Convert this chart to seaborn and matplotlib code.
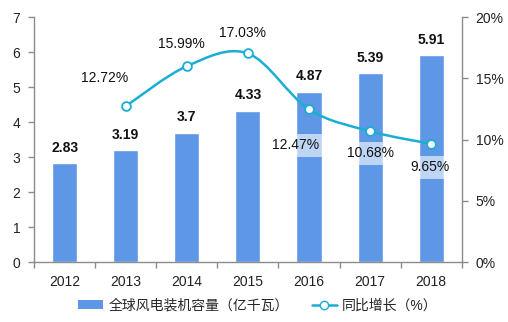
import matplotlib
matplotlib.use("Agg")
import matplotlib.pyplot as plt
from matplotlib.path import Path
from matplotlib.patches import PathPatch, Patch
from matplotlib.lines import Line2D
from matplotlib.ticker import FuncFormatter, FixedLocator
import seaborn as sns
import pandas as pd

years = ["2012", "2013", "2014", "2015", "2016", "2017", "2018"]
capacity = [2.83, 3.19, 3.7, 4.33, 4.87, 5.39, 5.91]
growth_years = ["2013", "2014", "2015", "2016", "2017", "2018"]
growth = [12.72, 15.99, 17.03, 12.47, 10.68, 9.65]
bar_legend = "全球风电装机容量（亿千瓦）"
line_legend = "同比增长（%）"

# label offsets (points) for the growth labels
growth_offsets = [(-15, 20), (-4, 16), (-4, 15), (-10, -26), (0, -16), (-1, -17)]
growth_boxed = [False, False, False, True, True, True]

BAR_COLOR = "#5E97E6"
LINE_COLOR = "#1AAED3"
SPINE_COLOR = "#8C8C8C"

sns.set_theme(style="white")
plt.rcParams["font.family"] = ["Liberation Sans", "Noto Sans CJK SC", "DejaVu Sans"]

fig = plt.figure(figsize=(5.08, 3.22), dpi=100)
ax = fig.add_axes([0.067, 0.186, 0.842, 0.761])

df = pd.DataFrame({"year": years, "capacity": capacity})
sns.barplot(data=df, x="year", y="capacity", color=BAR_COLOR, saturation=1,
            width=0.41, ax=ax)

ax.set_xlim(-0.5, len(years) - 0.5)
ax.set_ylim(0, 7)
ax.set_yticks(range(0, 8))
ax.set_xlabel("")
ax.set_ylabel("")

for s in ["top", "right"]:
    ax.spines[s].set_visible(False)
for s in ["left", "bottom"]:
    ax.spines[s].set_color(SPINE_COLOR)
    ax.spines[s].set_linewidth(1.0)

ax.tick_params(axis="x", which="major", length=0, pad=9, labelsize=10, colors="#222222")
ax.xaxis.set_minor_locator(FixedLocator([i - 0.5 for i in range(len(years) + 1)]))
ax.tick_params(axis="x", which="minor", length=4, width=1, color=SPINE_COLOR, direction="out", bottom=True)
ax.tick_params(axis="y", length=4, width=1, color=SPINE_COLOR, direction="out", left=True,
               pad=6, labelsize=10, labelcolor="#222222")

# value labels on the bars
for i, v in enumerate(capacity):
    ax.annotate(f"{v:g}", (i, v), xytext=(0, 6), textcoords="offset points",
                ha="center", va="bottom", fontsize=10, fontweight="bold", color="#111111")

# secondary axis: growth rate
ax2 = ax.twinx()
ax2.set_ylim(0, 20)
ax2.set_yticks(range(0, 21, 5))
ax2.yaxis.set_major_formatter(FuncFormatter(lambda v, p: f"{v:.0f}%"))
for s in ["top", "left", "bottom"]:
    ax2.spines[s].set_visible(False)
ax2.spines["right"].set_color(SPINE_COLOR)
ax2.spines["right"].set_linewidth(1.0)
ax2.tick_params(axis="y", length=4, width=1, color=SPINE_COLOR, direction="out", right=True,
                pad=6, labelsize=10, labelcolor="#222222")
ax2.grid(False)
ax.grid(False)

gx = [years.index(y) for y in growth_years]
pts = list(zip(gx, growth))

# smoothed curve through the points (Catmull-Rom as cubic Bezier segments)
verts = [pts[0]]
codes = [Path.MOVETO]
n = len(pts)
for i in range(n - 1):
    p0 = pts[i - 1] if i > 0 else pts[i]
    p1 = pts[i]
    p2 = pts[i + 1]
    p3 = pts[i + 2] if i + 2 < n else pts[i + 1]
    c1 = (p1[0] + (p2[0] - p0[0]) / 6, p1[1] + (p2[1] - p0[1]) / 6)
    c2 = (p2[0] - (p3[0] - p1[0]) / 6, p2[1] - (p3[1] - p1[1]) / 6)
    verts += [c1, c2, p2]
    codes += [Path.CURVE4] * 3
ax2.add_patch(PathPatch(Path(verts, codes), fc="none", ec=LINE_COLOR, lw=1.8, zorder=3))

sns.scatterplot(x=gx, y=growth, ax=ax2, s=40, color="white", edgecolor=LINE_COLOR,
                linewidth=1.3, zorder=4, legend=False)

for (x, y), (dx, dy), boxed in zip(pts, growth_offsets, growth_boxed):
    kw = {}
    if boxed:
        kw["bbox"] = dict(boxstyle="square,pad=0.35", fc="white", ec="none", alpha=0.6)
    ax2.annotate(f"{y:.2f}%", (x, y), xytext=(dx, dy), textcoords="offset points",
                 ha="center", va="center", fontsize=10, color="#111111", **kw)

handles = [
    Patch(facecolor=BAR_COLOR, edgecolor="none", label=bar_legend),
    Line2D([0], [0], color=LINE_COLOR, lw=1.8, marker="o", markersize=6,
           markerfacecolor="white", markeredgecolor=LINE_COLOR, label=line_legend),
]
fig.legend(handles=handles, loc="center", bbox_to_anchor=(0.508, 0.052), ncol=2,
           frameon=False, fontsize=10, handlelength=1.8, handleheight=0.6,
           columnspacing=1.6, handletextpad=0.4)

fig.savefig("out.png", dpi=100, facecolor="white")
